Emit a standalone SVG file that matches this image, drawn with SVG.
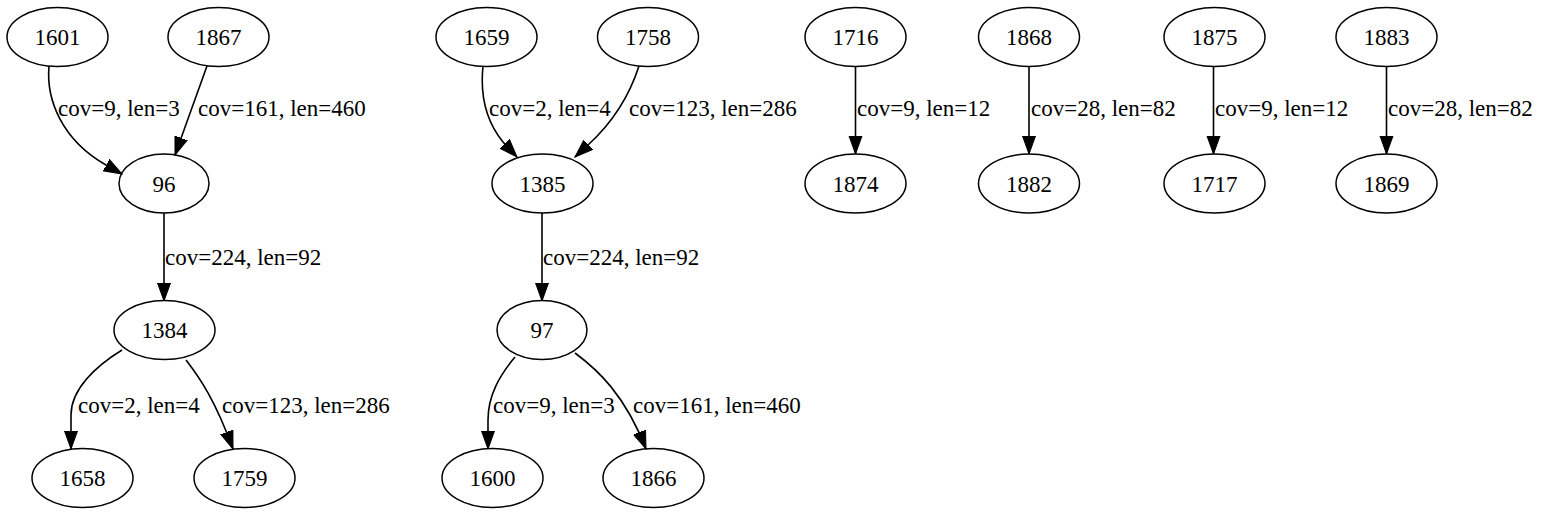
<svg xmlns="http://www.w3.org/2000/svg" width="1541" height="516" viewBox="0 0 1541 516">
<style>
.n ellipse{fill:none;stroke:#000;stroke-width:1.5}
text{font-family:'Liberation Serif','Times New Roman','DejaVu Serif',serif;font-size:23px;fill:#000}
.n text{text-anchor:middle}
.e path{fill:none;stroke:#000;stroke-width:1.6;marker-end:url(#ah)}
</style>
<defs>
<marker id="ah" markerUnits="userSpaceOnUse" markerWidth="22" markerHeight="16" refX="18" refY="7" orient="auto" viewBox="0 0 22 16">
<path d="M0,0.5 L18,7 L0,13.5 z" fill="#000" stroke="#000" stroke-width="1"/>
</marker>
</defs>
<rect width="1541" height="516" fill="#fff"/>
<g id="edges" class="e">
<path d="M49,66 C46,100 62,140 106,165 L122,174"/>
<text x="58" y="116">cov=9, len=3</text>
<path d="M207,66 L175,155"/>
<text x="198" y="116">cov=161, len=460</text>
<path d="M164,213 L164,301"/>
<text x="165" y="265">cov=224, len=92</text>
<path d="M122,350 C96,366 71,389 71,415 L71,449"/>
<text x="78" y="413">cov=2, len=4</text>
<path d="M186,360 C200,378 215,400 233,449"/>
<text x="222" y="413">cov=123, len=286</text>
<path d="M483,66 C480,95 485,120 503,142 L517,157"/>
<text x="489" y="116">cov=2, len=4</text>
<path d="M639,66 C628,100 610,125 588,145 L575,157"/>
<text x="629" y="116">cov=123, len=286</text>
<path d="M542,213 L542,301"/>
<text x="543" y="265">cov=224, len=92</text>
<path d="M515,357 C500,375 488,395 488,420 L488,449"/>
<text x="493" y="413">cov=9, len=3</text>
<path d="M575,353 C598,370 625,395 646,449"/>
<text x="633" y="413">cov=161, len=460</text>
<path d="M855.5,67 L855.5,154"/>
<text x="857" y="116">cov=9, len=12</text>
<path d="M1029,67 L1029,154"/>
<text x="1031" y="116">cov=28, len=82</text>
<path d="M1213.5,67 L1213.5,154"/>
<text x="1215" y="116">cov=9, len=12</text>
<path d="M1386.5,67 L1386.5,154"/>
<text x="1388" y="116">cov=28, len=82</text>
</g>
<g id="n1601" class="n"><ellipse cx="57.5" cy="37" rx="50.5" ry="29.5"/><text x="57.5" y="45">1601</text></g>
<g id="n1867" class="n"><ellipse cx="218.5" cy="37" rx="50.5" ry="29.5"/><text x="218.5" y="45">1867</text></g>
<g id="n96" class="n"><ellipse cx="164" cy="183.5" rx="45" ry="29.5"/><text x="164" y="191.5">96</text></g>
<g id="n1384" class="n"><ellipse cx="164.5" cy="330" rx="50.5" ry="29.5"/><text x="164.5" y="338">1384</text></g>
<g id="n1658" class="n"><ellipse cx="82.5" cy="478" rx="50.5" ry="29.5"/><text x="82.5" y="486">1658</text></g>
<g id="n1759" class="n"><ellipse cx="244.5" cy="478" rx="50.5" ry="29.5"/><text x="244.5" y="486">1759</text></g>
<g id="n1659" class="n"><ellipse cx="486.5" cy="37" rx="50.5" ry="29.5"/><text x="486.5" y="45">1659</text></g>
<g id="n1758" class="n"><ellipse cx="648" cy="37" rx="50.5" ry="29.5"/><text x="648" y="45">1758</text></g>
<g id="n1385" class="n"><ellipse cx="542.5" cy="183.5" rx="50.5" ry="29.5"/><text x="542.5" y="191.5">1385</text></g>
<g id="n97" class="n"><ellipse cx="542" cy="330" rx="45" ry="29.5"/><text x="542" y="338">97</text></g>
<g id="n1600" class="n"><ellipse cx="492.5" cy="478" rx="50.5" ry="29.5"/><text x="492.5" y="486">1600</text></g>
<g id="n1866" class="n"><ellipse cx="653.5" cy="478" rx="50.5" ry="29.5"/><text x="653.5" y="486">1866</text></g>
<g id="n1716" class="n"><ellipse cx="855.5" cy="37" rx="50.5" ry="29.5"/><text x="855.5" y="45">1716</text></g>
<g id="n1874" class="n"><ellipse cx="855.5" cy="183.5" rx="50.5" ry="29.5"/><text x="855.5" y="191.5">1874</text></g>
<g id="n1868" class="n"><ellipse cx="1029" cy="37" rx="50.5" ry="29.5"/><text x="1029" y="45">1868</text></g>
<g id="n1882" class="n"><ellipse cx="1029" cy="183.5" rx="50.5" ry="29.5"/><text x="1029" y="191.5">1882</text></g>
<g id="n1875" class="n"><ellipse cx="1214.5" cy="37" rx="50.5" ry="29.5"/><text x="1214.5" y="45">1875</text></g>
<g id="n1717" class="n"><ellipse cx="1214.5" cy="183.5" rx="50.5" ry="29.5"/><text x="1214.5" y="191.5">1717</text></g>
<g id="n1883" class="n"><ellipse cx="1386.5" cy="37" rx="50.5" ry="29.5"/><text x="1386.5" y="45">1883</text></g>
<g id="n1869" class="n"><ellipse cx="1386.5" cy="183.5" rx="50.5" ry="29.5"/><text x="1386.5" y="191.5">1869</text></g>
</svg>
